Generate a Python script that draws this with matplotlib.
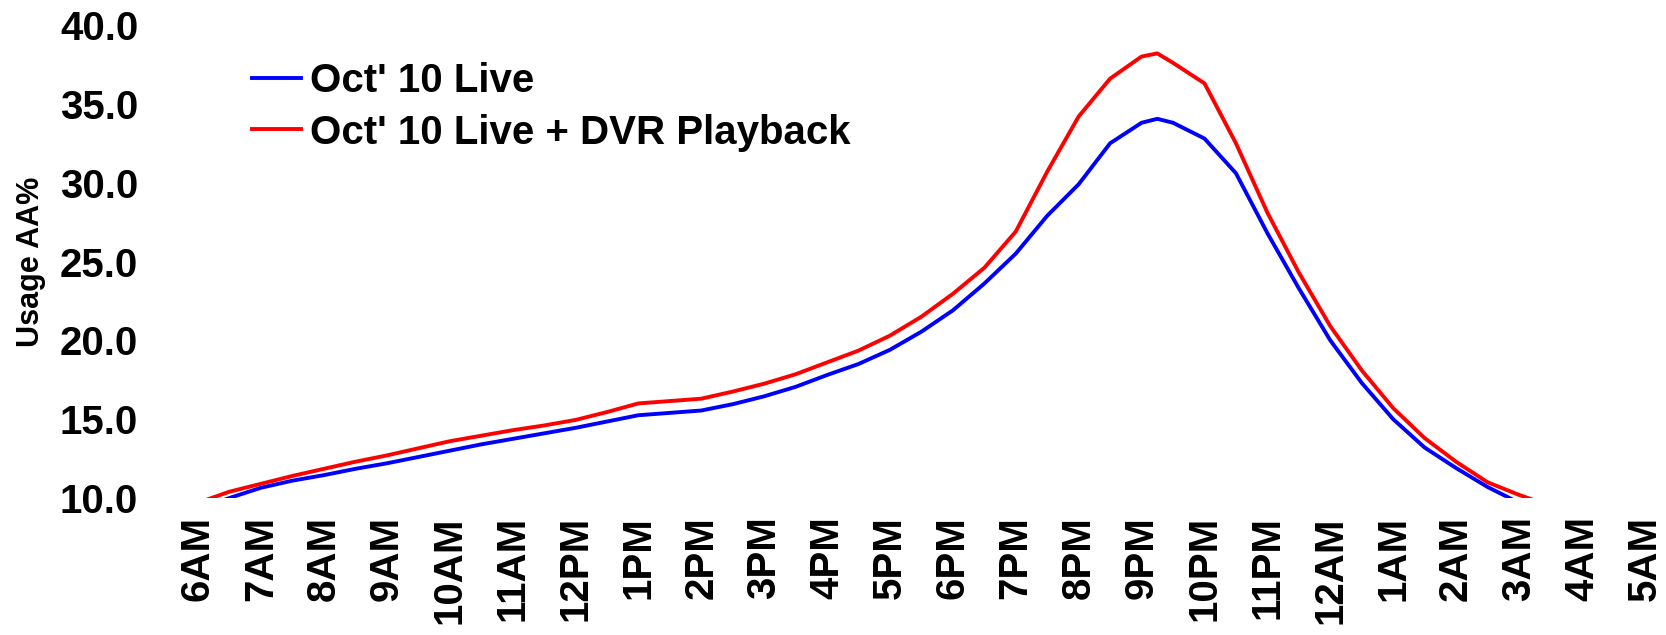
import matplotlib
matplotlib.use('Agg')
import matplotlib.pyplot as plt

# データ (hours after 6AM)
hours = [0, 0.5, 1, 1.5, 2, 2.5, 3, 3.5, 4, 4.5, 5, 5.5, 6, 6.5, 7, 7.5, 8, 8.5,
         9, 9.5, 10, 10.5, 11, 11.5, 12, 12.5, 13, 13.5, 14, 14.5, 15, 15.25,
         15.5, 16, 16.5, 17, 17.5, 18, 18.5, 19, 19.5, 20, 20.5, 21, 21.5]
live = [9.3, 10.0, 10.65, 11.1, 11.45, 11.85, 12.2, 12.6, 13.0, 13.4, 13.75,
        14.1, 14.45, 14.85, 15.25, 15.4, 15.55, 15.95, 16.45, 17.05, 17.8,
        18.5, 19.4, 20.55, 21.9, 23.6, 25.5, 27.9, 29.9, 32.5, 33.8, 34.05,
        33.8, 32.8, 30.6, 26.8, 23.3, 20.0, 17.3, 15.0, 13.2, 11.9, 10.7,
        9.7, 9.0]
live_dvr = [9.7, 10.4, 10.9, 11.4, 11.85, 12.3, 12.7, 13.15, 13.6, 13.95,
            14.3, 14.6, 14.95, 15.45, 16.0, 16.15, 16.3, 16.75, 17.25, 17.85,
            18.6, 19.35, 20.3, 21.5, 22.95, 24.6, 26.9, 30.7, 34.2, 36.6, 38.0,
            38.2, 37.6, 36.3, 32.5, 28.1, 24.3, 20.9, 18.1, 15.7, 13.8, 12.3,
            11.0, 10.2, 9.5]
tick_labels = ['6AM', '7AM', '8AM', '9AM', '10AM', '11AM', '12PM', '1PM', '2PM',
               '3PM', '4PM', '5PM', '6PM', '7PM', '8PM', '9PM', '10PM', '11PM',
               '12AM', '1AM', '2AM', '3AM', '4AM', '5AM']
yticks = [10, 15, 20, 25, 30, 35, 40]

plt.rcParams['font.family'] = ['Liberation Sans', 'DejaVu Sans']
plt.rcParams['font.weight'] = 'bold'

fig = plt.figure(figsize=(16.66, 6.35), dpi=100)
ax = fig.add_axes([0.1188, 0.2157, 0.8685, 0.7449])

ax.plot(hours, live, color='#0000ff', lw=2.8, label="Oct' 10 Live")
ax.plot(hours, live_dvr, color='#ff0000', lw=2.8, label="Oct' 10 Live + DVR Playback")

ax.set_xlim(0, 23)
ax.set_ylim(10, 40)
ax.set_xticks(range(len(tick_labels)))
ax.set_xticklabels(tick_labels, rotation=90, fontsize=29, fontweight='bold')
ax.set_yticks(yticks)
ax.set_yticklabels(['%.1f' % v for v in yticks], fontsize=29, fontweight='bold')
ax.tick_params(axis='x', length=0, pad=13)
ax.tick_params(axis='y', length=0, pad=43)
for s in ax.spines.values():
    s.set_visible(False)

ax.set_ylabel('Usage AA%', fontsize=22, fontweight='bold')
ax.yaxis.set_label_coords(-0.105, 0.5)

ax.legend(loc='upper left', bbox_to_anchor=(0.012, 0.998), frameon=False,
          prop={'size': 29, 'weight': 'bold'}, handlelength=1.22,
          handletextpad=0.22, labelspacing=0.33)

fig.savefig('out.png', dpi=100)
